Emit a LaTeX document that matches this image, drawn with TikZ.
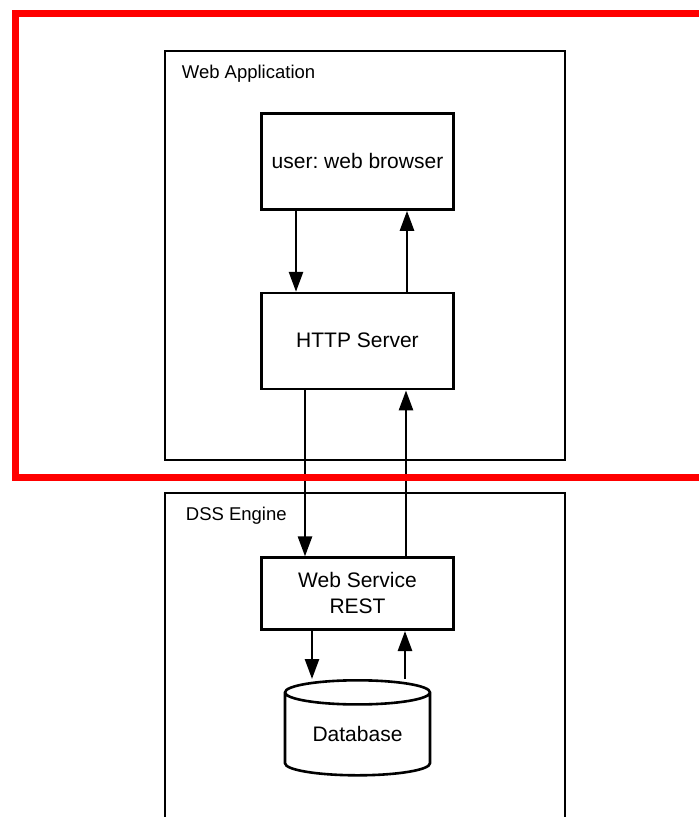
\documentclass[tikz,border=0pt]{standalone}
\usepackage{fontspec}
\setmainfont{Liberation Sans}
\frenchspacing
\usetikzlibrary{arrows.meta, positioning, shapes.geometric}

\begin{document}
\begin{tikzpicture}[x=1pt,y=-1pt,
		link/.style={-{Triangle[length=20pt,width=14pt]}, line width=2.6pt},
		box/.style={rectangle, draw, line width=2.6pt, minimum width=192pt, align=center,
			font=\fontsize{21}{26}\selectfont},
		frame/.style={rectangle, draw, line width=2.6pt, minimum width=400pt},
		tag/.style={anchor=base west, inner sep=0pt, font=\fontsize{18.5}{22}\selectfont}]

		\useasboundingbox (0,0) rectangle (699,817);
		\clip (0,0) rectangle (699,817);

		\node[frame, minimum height=409pt] (webapp) at (365,255.5) {};
		\node[frame, minimum height=340pt] (engine) at (365,663) {};
		\node[tag] (webtag) at ([xshift=18pt,yshift=-29pt]webapp.north west) {Web Application};
		\node[tag] (dsstag) at ([xshift=22pt,yshift=-29pt]engine.north west) {DSS Engine};

		\node[box, minimum height=96pt] (browser) at (357.5,161.5) {\raisebox{2pt}{user: web browser}};
		\node[box, minimum height=96pt] (http) [below=81pt of browser] {\raisebox{2pt}{HTTP Server}};
		\node[box, minimum height=72pt] (ws) [below=166pt of http] {\raisebox{2pt}{Web Service}\\\raisebox{2pt}{REST}};
		\node[cylinder, draw, line width=2.6pt, shape border rotate=90, aspect=0.25, minimum width=145pt,
			minimum height=95pt, font=\fontsize{21}{26}\selectfont] (db) [below=48pt of ws] {\raisebox{5pt}{Database}};

		\draw[link] ([xshift=-61.5pt]browser.south) -- ([xshift=-61.5pt]http.north);
		\draw[link] ([xshift=49.5pt]http.north) -- ([xshift=49.5pt]browser.south);
		\draw[link] ([xshift=-52.5pt]http.south) -- ([xshift=-52.5pt]ws.north);
		\draw[link] ([xshift=48.5pt]ws.north) -- ([xshift=48.5pt]http.south);
		\draw[link] ([xshift=-45.5pt]ws.south) -- ([xshift=-45.5pt]db.north);
		\draw[link] ([xshift=47.5pt]db.north) -- ([xshift=47.5pt]ws.south);

		% highlighted part
		\draw[red, line width=7pt] (720,13.5) -| (15.5,477.5) -- (720,477.5);

	\end{tikzpicture}
\end{document}
